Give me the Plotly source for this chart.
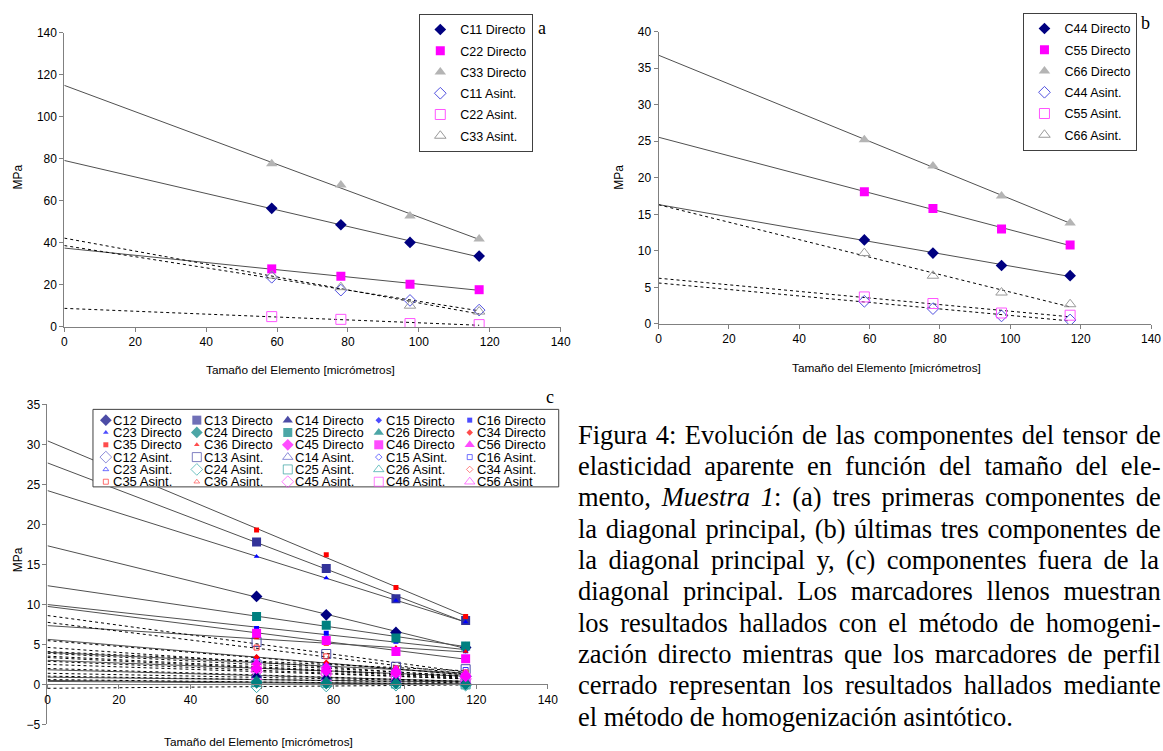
import numpy as np
import plotly.graph_objects as go

W, H = 1163, 751
SANS = "Arial, Liberation Sans, sans-serif"
SERIF = "Liberation Serif, Times New Roman, serif"

# ---------------- data ----------------
x_size = [58.5, 78.0, 97.5, 117.0]   # Tamaño del elemento [micrómetros]

# Panel a
a_labels = ["C11 Directo", "C22 Directo", "C33 Directo", "C11 Asint.", "C22 Asint.", "C33 Asint."]
a_c11_dir = [56.4, 48.6, 40.2, 33.7]
a_c22_dir = [27.6, 24.1, 20.3, 17.7]
a_c33_dir = [77.6, 67.5, 52.8, 41.8]
a_c11_asi = [23.6, 17.5, 12.6, 8.0]
a_c22_asi = [4.9, 3.6, 1.6, 1.1]
a_c33_asi = [24.4, 18.9, 10.1, 7.3]

# Panel b
b_labels = ["C44 Directo", "C55 Directo", "C66 Directo", "C44 Asint.", "C55 Asint.", "C66 Asint."]
b_c44_dir = [11.5, 9.7, 8.0, 6.6]
b_c55_dir = [18.1, 15.8, 13.0, 10.8]
b_c66_dir = [25.2, 21.6, 17.5, 13.8]
b_c44_asi = [3.1, 2.1, 1.1, 0.55]
b_c55_asi = [3.7, 2.8, 1.5, 1.2]
b_c66_asi = [9.7, 6.6, 4.3, 2.7]

# Panel c
c_components = ["C12", "C13", "C14", "C15", "C16", "C23", "C24", "C25", "C26", "C34",
                "C35", "C36", "C45", "C46", "C56"]
c_dir_labels = [c + " Directo" for c in c_components]
c_asi_labels = ["C12 Asint.", "C13 Asint.", "C14 Asint.", "C15 ASint.", "C16 Asint.",
                "C23 Asint.", "C24 Asint.", "C25 Asint.", "C26 Asint.", "C34 Asint.",
                "C35 Asint.", "C36 Asint.", "C45 Asint.", "C46 Asint.", "C56 Asint"]
c_dir_values = [
    [11.0, 8.7, 6.5, 4.6],    # C12
    [17.8, 14.5, 10.7, 8.0],  # C13
    [1.1, 0.9, 0.6, 0.4],     # C14
    [0.3, 0.2, 0.1, 0.1],     # C15
    [7.0, 6.4, 5.4, 4.2],     # C16
    [16.0, 13.3, 10.5, 7.8],  # C23
    [0.2, 0.1, 0.1, 0.0],     # C24
    [8.5, 7.4, 5.8, 4.8],     # C25
    [0.6, 0.5, 0.4, 0.3],     # C26
    [3.4, 2.7, 1.9, 1.2],     # C34
    [19.3, 16.2, 12.1, 8.5],  # C35
    [5.8, 5.0, 4.6, 4.1],     # C36
    [2.0, 1.7, 1.4, 1.0],     # C45
    [6.4, 5.5, 4.1, 3.2],     # C46
    [2.7, 2.3, 1.9, 1.4],     # C56
]
c_asi_values = [
    [2.8, 2.2, 1.5, 1.0],     # C12
    [5.3, 3.8, 2.2, 1.9],     # C13
    [1.2, 0.9, 0.6, 0.4],     # C14
    [1.8, 1.4, 1.0, 0.7],     # C15
    [3.0, 2.4, 2.0, 1.8],     # C16
    [3.4, 2.6, 1.8, 1.3],     # C23
    [-0.3, -0.2, -0.1, -0.1], # C24
    [0.3, 0.2, 0.1, 0.0],     # C25
    [0.6, 0.5, 0.3, 0.2],     # C26
    [2.2, 1.8, 1.3, 0.9],     # C34
    [4.6, 3.5, 2.0, 1.5],     # C35
    [2.5, 2.0, 1.5, 1.1],     # C36
    [1.6, 1.3, 1.0, 0.7],     # C45
    [2.1, 1.6, 1.2, 0.8],     # C46
    [0.9, 0.7, 0.5, 0.4],     # C56
]

x_title = "Tamaño del Elemento [micrómetros]"
y_title = "MPa"
caption_lines = [
    [("Figura 4: Evolución de las componentes del tensor de", False)],
    [("elasticidad aparente en función del tamaño del ele-", False)],
    [("mento, ", False), ("Muestra 1", True), (": (a) tres primeras componentes de", False)],
    [("la diagonal principal, (b) últimas tres componentes de", False)],
    [("la diagonal principal y, (c) componentes fuera de la", False)],
    [("diagonal principal. Los marcadores llenos muestran", False)],
    [("los resultados hallados con el método de homogeni-", False)],
    [("zación directo mientras que los marcadores de perfil", False)],
    [("cerrado representan los resultados hallados mediante", False)],
    [("el método de homogenización asintótico.", False)],
]

# ---------------- styles ----------------
a_styles = [("diamond", "#000080", 9), ("square", "#FF00FF", 9), ("triangle-up", "#B4B4B4", 10),
            ("diamond-open", "#5050E0", 9), ("square-open", "#FF55FF", 10), ("triangle-up-open", "#999999", 10)]
b_styles = a_styles
c_dir_styles = [("diamond", "#000080", 9), ("square", "#333399", 9), ("triangle-up", "#000080", 9),
                ("diamond", "#0000FF", 5), ("square", "#0000FF", 5), ("triangle-up", "#0000FF", 5),
                ("diamond", "#008080", 9), ("square", "#008080", 9), ("triangle-up", "#008080", 9),
                ("diamond", "#FF0000", 5), ("square", "#FF0000", 5), ("triangle-up", "#FF0000", 5),
                ("diamond", "#FF00FF", 9), ("square", "#FF00FF", 9), ("triangle-up", "#FF00FF", 9)]
c_asi_colors = ["#5a5ac8", "#4a4aa8", "#5a5ac8", "#3333FF", "#3333FF", "#3333FF",
                "#33A8A8", "#33A0A0", "#33A8A8", "#FF5050", "#FF3333", "#FF5050",
                "#FF44FF", "#FF44FF", "#FF44FF"]
c_asi_styles = [(s[0] + "-open", col, s[2]) for s, col in zip(c_dir_styles, c_asi_colors)]

DIR_LINE = dict(color="#505050", width=1)
ASI_LINE = dict(color="#000000", width=1, dash="dot")


def px2x(p):
    return p / W


def px2y(p):
    return 1 - p / H


fig = go.Figure()


def add_trend(xs, ys, direct, xa, ya):
    k, b = np.polyfit(xs, ys, 1)
    xl = np.array([0.0, max(xs)])
    fig.add_trace(go.Scatter(x=xl, y=k * xl + b, mode="lines",
                             line=DIR_LINE if direct else ASI_LINE,
                             showlegend=False, hoverinfo="skip", xaxis=xa, yaxis=ya))


def add_markers(xs, ys, name, style, xa, ya, legend=None):
    sym, col, size = style
    mk = dict(symbol=sym, color=col, size=size)
    if sym.endswith("-open"):
        mk["line"] = dict(color=col, width=1)
    fig.add_trace(go.Scatter(x=xs, y=ys, mode="markers", name=name, marker=mk,
                             showlegend=legend is not None, legend=legend or "legend",
                             legendgroup=name if legend else None,
                             xaxis=xa, yaxis=ya))


# panel a
a_series = [a_c11_dir, a_c22_dir, a_c33_dir, a_c11_asi, a_c22_asi, a_c33_asi]
for i, ys in enumerate(a_series):
    add_trend(x_size, ys, i < 3, "x", "y")
for ys, nm, st in zip(a_series, a_labels, a_styles):
    add_markers(x_size, ys, nm, st, "x", "y", legend="legend")

# panel b
b_series = [b_c44_dir, b_c55_dir, b_c66_dir, b_c44_asi, b_c55_asi, b_c66_asi]
for i, ys in enumerate(b_series):
    add_trend(x_size, ys, i < 3, "x2", "y2")
for ys, nm, st in zip(b_series, b_labels, b_styles):
    add_markers(x_size, ys, nm, st, "x2", "y2", legend="legend2")

# panel c
for ys in c_dir_values:
    add_trend(x_size, ys, True, "x3", "y3")
for ys in c_asi_values:
    add_trend(x_size, ys, False, "x3", "y3")
for ys, nm, st in zip(c_asi_values, c_asi_labels, c_asi_styles):
    add_markers(x_size, ys, nm, st, "x3", "y3")
for ys, nm, st in zip(c_dir_values, c_dir_labels, c_dir_styles):
    add_markers(x_size, ys, nm, st, "x3", "y3")

# panel c legend (5 columns, row-major), drawn on a pixel-space overlay axis
LEG_BOX = (91, 410, 562, 489)
LEG_COL_X = 104
LEG_COL_DX = 92
LEG_ROW_Y = 421
LEG_ROW_DY = 12.55
leg_names = c_dir_labels + c_asi_labels
leg_styles = c_dir_styles + c_asi_styles
bx0, by0, bx1, by1 = LEG_BOX
fig.add_trace(go.Scatter(x=[bx0, bx1, bx1, bx0, bx0], y=[by0, by0, by1, by1, by0], mode="lines",
                         fill="toself", fillcolor="white", line=dict(color="#404040", width=1),
                         showlegend=False, hoverinfo="skip", xaxis="x4", yaxis="y4"))
lx, ly = [], []
for idx in range(len(leg_names)):
    r, c = divmod(idx, 5)
    lx.append(LEG_COL_X + c * LEG_COL_DX)
    ly.append(LEG_ROW_Y + r * LEG_ROW_DY)
fig.add_trace(go.Scatter(
    x=lx, y=ly, mode="markers", showlegend=False, hoverinfo="skip", xaxis="x4", yaxis="y4",
    marker=dict(symbol=[s[0] for s in leg_styles], color=[s[1] for s in leg_styles],
                size=[s[2] for s in leg_styles],
                line=dict(color=[s[1] for s in leg_styles],
                          width=[1 if s[0].endswith("-open") else 0 for s in leg_styles]))))
annotations = []
for nm, x0, y0 in zip(leg_names, lx, ly):
    annotations.append(dict(text=nm, x=px2x(x0 + 6), y=px2y(y0), xref="paper", yref="paper",
                            xanchor="left", yanchor="middle", showarrow=False, borderpad=0,
                            font=dict(family=SANS, size=13, color="black")))


def axis(**kw):
    d = dict(showgrid=False, zeroline=False, showline=True, linecolor="#808080", linewidth=1,
             ticks="outside", ticklen=4, tickcolor="#808080", tickwidth=1,
             tickfont=dict(family=SANS, size=12, color="black"), fixedrange=True)
    d.update(kw)
    return d


# axis titles and panel letters
for (tx, ty) in [(301, 370), (893, 368), (258, 749)]:
    annotations.append(dict(text=x_title, x=px2x(tx), y=px2y(ty), xref="paper", yref="paper",
                            xanchor="center", yanchor="middle", showarrow=False,
                            font=dict(family=SANS, size=11.8, color="black")))
for (tx, ty) in [(15, 173), (623, 174), (15, 563)]:
    annotations.append(dict(text=y_title, x=px2x(tx), y=px2y(ty), xref="paper", yref="paper",
                            xanchor="center", yanchor="middle", showarrow=False, textangle=-90,
                            font=dict(family=SANS, size=12, color="black")))
for lab, (tx, ty) in zip(["a", "b", "c"], [(545, 21), (1155, 16), (553, 397)]):
    annotations.append(dict(text=lab, x=px2x(tx), y=px2y(ty), xref="paper", yref="paper",
                            xanchor="center", yanchor="middle", showarrow=False,
                            font=dict(family=SERIF, size=18, color="black")))

# caption, justified with computed word spacing (Times metrics)
TIMES = {" ": 250, "(": 333, ")": 333, ",": 250, "-": 333, ".": 250, ":": 278,
         "F": 556, "E": 611, "L": 611, "M": 889,
         "a": 444, "b": 500, "c": 444, "d": 500, "e": 444, "f": 333, "g": 500, "h": 500,
         "i": 278, "j": 278, "k": 500, "l": 278, "m": 778, "n": 500, "o": 500, "p": 500,
         "q": 500, "r": 333, "s": 389, "t": 278, "u": 500, "v": 500, "w": 722, "x": 500,
         "y": 500, "z": 444, "á": 444, "é": 444, "í": 278, "ó": 500, "ú": 500, "ñ": 500}
TIMES_I = {" ": 250, "M": 833, "u": 500, "e": 444, "s": 389, "t": 278, "r": 389, "a": 500}
CAP_FS = 26.5
CAP_SCALE = 0.995
CAP_X0, CAP_X1 = 580, 1160
CAP_Y0, CAP_DY = 436, 31.9
for li, segs in enumerate(caption_lines):
    units = 0
    nsp = 0
    for txt, it in segs:
        tab = TIMES_I if it else TIMES
        for ch in txt:
            units += tab.get(ch, 500)
            nsp += ch == " "
    natural = units * CAP_FS * CAP_SCALE / 1000
    ws = (CAP_X1 - CAP_X0 - natural) / nsp if li < len(caption_lines) - 1 else 0
    body = "".join("<i>%s</i>" % t if it else t for t, it in segs)
    text = '<span style="word-spacing:%.2fpx">%s</span>' % (ws, body)
    annotations.append(dict(text=text, x=px2x(CAP_X0), y=px2y(CAP_Y0 + li * CAP_DY),
                            xref="paper", yref="paper", xanchor="left", yanchor="middle",
                            showarrow=False, borderpad=0,
                            font=dict(family=SERIF, size=CAP_FS, color="black")))

legend_common = dict(xanchor="left", yanchor="top", bgcolor="white", bordercolor="#404040",
                     borderwidth=1, font=dict(family=SANS, size=12.5, color="black"),
                     tracegroupgap=2, itemwidth=30)

C_TOP, C_BOT = 405, 731          # pixel rows of y = 35 and y = -5 in panel c
c_zero = C_TOP + (35 - 0) / 40 * (C_BOT - C_TOP)

fig.update_layout(
    width=W, height=H, autosize=False,
    margin=dict(l=0, r=0, t=0, b=0, pad=0),
    paper_bgcolor="white", plot_bgcolor="rgba(0,0,0,0)",
    showlegend=True,
    legend=dict(x=px2x(421), y=px2y(7), **legend_common),
    legend2=dict(x=px2x(1032), y=px2y(6), **legend_common),
    xaxis=axis(domain=[px2x(62), px2x(564)], range=[0, 140], dtick=20, anchor="y"),
    yaxis=axis(domain=[px2y(326), px2y(26)], range=[0, 140], dtick=20, anchor="x"),
    xaxis2=axis(domain=[px2x(663), px2x(1161)], range=[0, 140], dtick=20, anchor="y2"),
    yaxis2=axis(domain=[px2y(323), px2y(25)], range=[0, 40], dtick=5, anchor="x2"),
    xaxis3=axis(domain=[px2x(45), px2x(551)], range=[0, 140], dtick=20, anchor="free",
                position=px2y(c_zero)),
    yaxis3=axis(domain=[px2y(C_BOT), px2y(C_TOP)], range=[-5, 35], dtick=5, anchor="x3"),
    xaxis4=dict(domain=[0, 1], range=[0, W], visible=False, fixedrange=True, anchor="y4"),
    yaxis4=dict(domain=[0, 1], range=[H, 0], visible=False, fixedrange=True, anchor="x4"),
    annotations=annotations,
)

# the page body normally has an 8px margin; remove it so the figure fills the window exactly
fig.write_html("out.html", config={"displayModeBar": False},
               post_script="document.body.style.margin='0px';")
